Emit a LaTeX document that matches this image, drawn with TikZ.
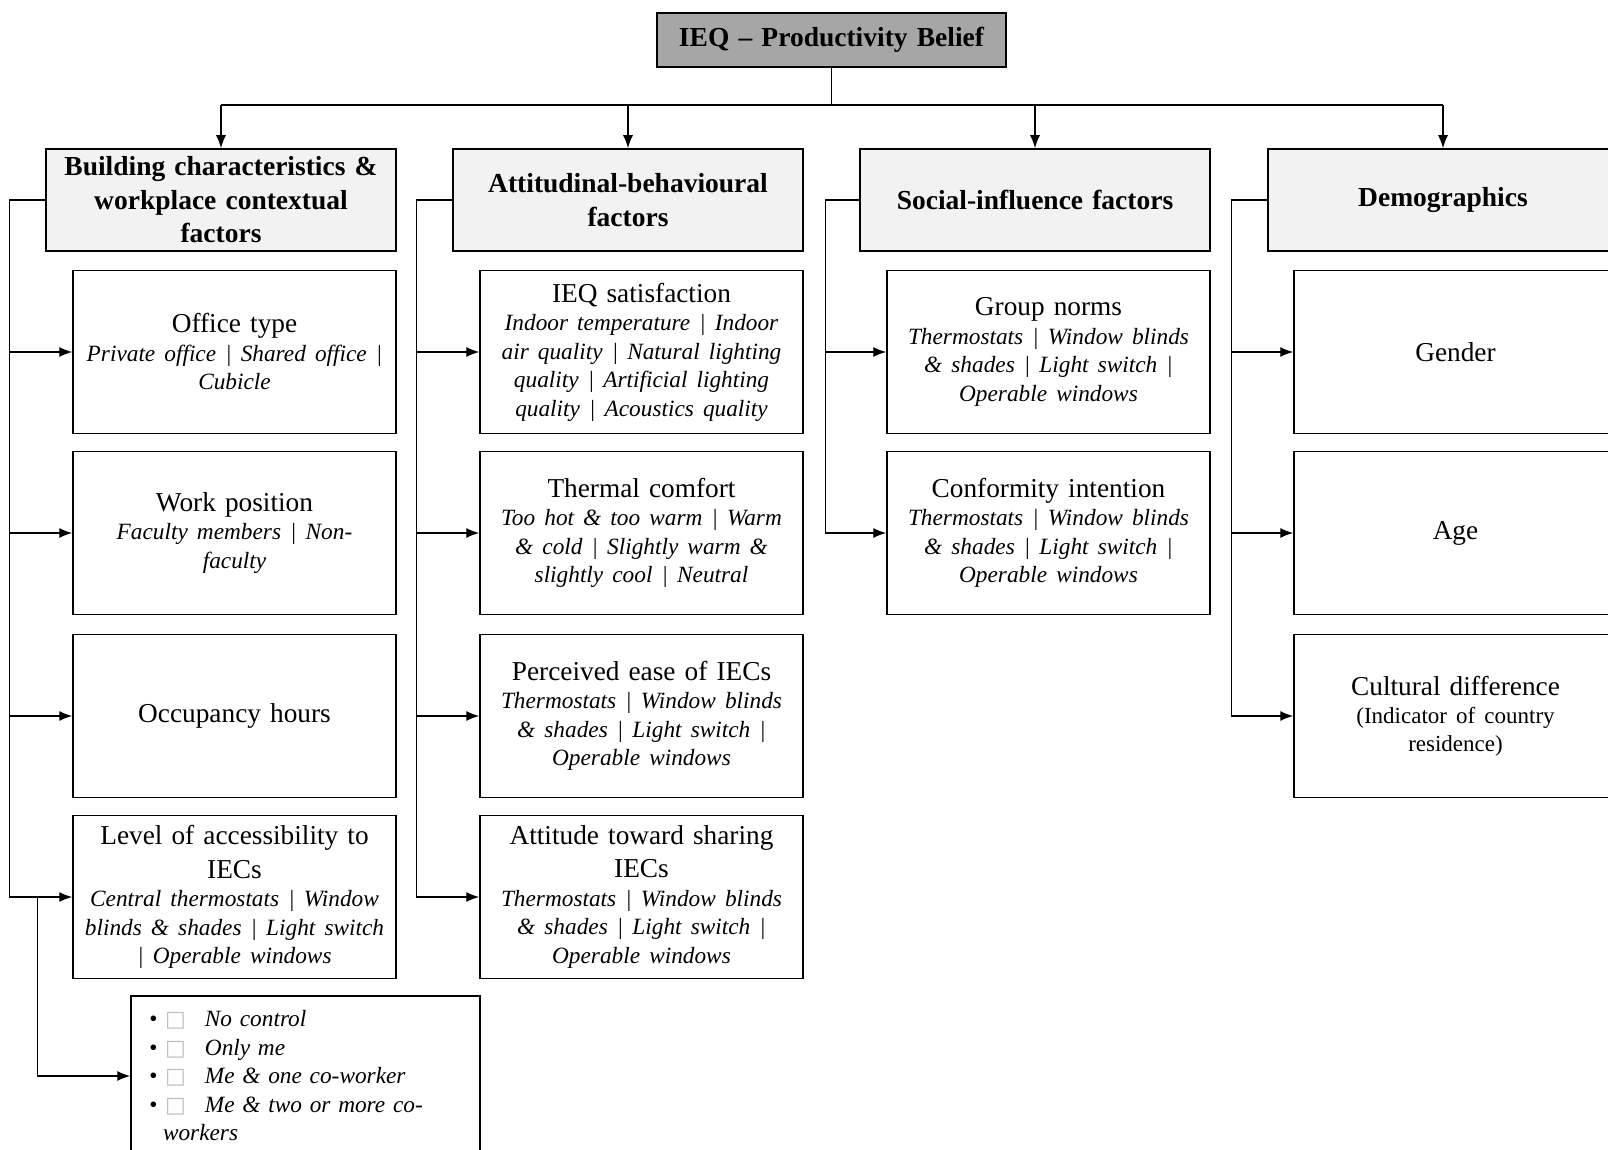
\documentclass[tikz,border=0pt]{standalone}
\usepackage{fontspec}
\setmainfont{Liberation Serif}
\newfontfamily\symfont{DejaVu Sans}
\usetikzlibrary{arrows.meta}

\definecolor{topgray}{RGB}{166,166,166}
\definecolor{catgray}{RGB}{242,242,242}

\newcommand{\detail}[1]{\par{\itshape\fontsize{23.3}{28.5}\selectfont #1\par}}
\newcommand{\note}[1]{\par{\fontsize{23}{28}\selectfont #1\par}}
\newcommand{\opt}[1]{\hspace*{11pt}\textbullet\hspace{8pt}{\symfont\fontsize{22}{21}\selectfont\color{gray!50}□}\hspace{19pt}\textit{#1}}

\tikzset{
  box/.style={draw, line width=1.5pt, inner sep=0pt, align=center,
    minimum width=323pt, minimum height=163pt, text width=320pt,
    font=\fontsize{27.3}{33.5}\selectfont},
  catbox/.style={box, fill=catgray, minimum width=350pt, minimum height=102pt,
    text width=345pt, font=\bfseries\fontsize{27.5}{33.5}\selectfont},
  link/.style={line width=1.4pt},
  feed/.style={link, -{Latex[length=13pt,width=10pt]}}
}

\begin{document}
\begin{tikzpicture}[x=1pt,y=-1pt]
  \useasboundingbox (0,0) rectangle (1608,1150);
  \clip (0,0) rectangle (1608,1150);

  % top and the four groups
  \node[catbox, fill=topgray, minimum width=349pt, minimum height=54pt] (ieq) at (831.5,40) {IEQ -- Productivity Belief};
  \node[catbox] (bc) at (221,200) {Building characteristics \&\\workplace contextual\\factors};
  \node[catbox] (ab) at (628,200) {Attitudinal-behavioural\\factors};
  \node[catbox] (si) at (1035,200) {Social-influence factors};
  \node[catbox] (dm) at (1443,200) {Demographics};

  \draw[link] (ieq.south) -- (ieq.south |- 0,105) coordinate (bus);
  \draw[link] (bc.north |- bus) -- (dm.north |- bus);
  \draw[feed] (bc.north |- bus) -- (bc.north);
  \draw[feed] (ab.north |- bus) -- (ab.north);
  \draw[feed] (si.north |- bus) -- (si.north);
  \draw[feed] (dm.north |- bus) -- (dm.north);

  % building characteristics
  \node[box] (off) at (234.5,352) {Office type\detail{Private office | Shared office |\\Cubicle}};
  \node[box] (pos) at (234.5,533) {Work position\detail{Faculty members | Non-\\faculty}};
  \node[box] (occ) at (234.5,716) {Occupancy hours};
  \node[box] (acc) at (234.5,897) {Level of accessibility to\\IECs\detail{Central thermostats | Window\\blinds \& shades | Light switch\\| Operable windows}};
  \node[box, minimum width=349pt, minimum height=160pt, text width=335pt, align=left,
    font=\itshape\fontsize{23.3}{28.5}\selectfont] (opts) at (305.5,1076)
    {\opt{No control}\\\opt{Only me}\\\opt{Me \& one co-worker}\\\opt{Me \& two or more co-}\\\hspace*{25pt}\textit{workers}};

  \draw[link] (bc.west) -- ++(-36,0) coordinate (bcl) -- (bcl |- acc.west);
  \draw[feed] (bcl |- off.west) -- (off.west);
  \draw[feed] (bcl |- pos.west) -- (pos.west);
  \draw[feed] (bcl |- occ.west) -- (occ.west);
  \draw[feed] (bcl |- acc.west) -- (acc.west);
  \draw[feed] (acc.west) ++(-35,0) |- (opts.west);

  % attitudinal-behavioural
  \node[box] (sat) at (641.5,352) {IEQ satisfaction\detail{Indoor temperature | Indoor\\air quality | Natural lighting\\quality | Artificial lighting\\quality | Acoustics quality}};
  \node[box] (thc) at (641.5,533) {Thermal comfort\detail{Too hot \& too warm | Warm\\\& cold | Slightly warm \&\\slightly cool | Neutral}};
  \node[box] (ease) at (641.5,716) {Perceived ease of IECs\detail{Thermostats | Window blinds\\\& shades | Light switch |\\Operable windows}};
  \node[box] (shr) at (641.5,897) {Attitude toward sharing\\IECs\detail{Thermostats | Window blinds\\\& shades | Light switch |\\Operable windows}};

  \draw[link] (ab.west) -- ++(-36,0) coordinate (abl) -- (abl |- shr.west);
  \draw[feed] (abl |- sat.west) -- (sat.west);
  \draw[feed] (abl |- thc.west) -- (thc.west);
  \draw[feed] (abl |- ease.west) -- (ease.west);
  \draw[feed] (abl |- shr.west) -- (shr.west);

  % social influence
  \node[box] (grp) at (1048.5,352) {Group norms\detail{Thermostats | Window blinds\\\& shades | Light switch |\\Operable windows}};
  \node[box] (conf) at (1048.5,533) {Conformity intention\detail{Thermostats | Window blinds\\\& shades | Light switch |\\Operable windows}};

  \draw[link] (si.west) -- ++(-34,0) coordinate (sil) -- (sil |- conf.west);
  \draw[feed] (sil |- grp.west) -- (grp.west);
  \draw[feed] (sil |- conf.west) -- (conf.west);

  % demographics
  \node[box] (gen) at (1455.5,352) {Gender};
  \node[box] (age) at (1455.5,533) {Age};
  \node[box] (cul) at (1455.5,716) {Cultural difference\note{(Indicator of country\\residence)}};

  \draw[link] (dm.west) -- ++(-36,0) coordinate (dml) -- (dml |- cul.west);
  \draw[feed] (dml |- gen.west) -- (gen.west);
  \draw[feed] (dml |- age.west) -- (age.west);
  \draw[feed] (dml |- cul.west) -- (cul.west);
\end{tikzpicture}
\end{document}
